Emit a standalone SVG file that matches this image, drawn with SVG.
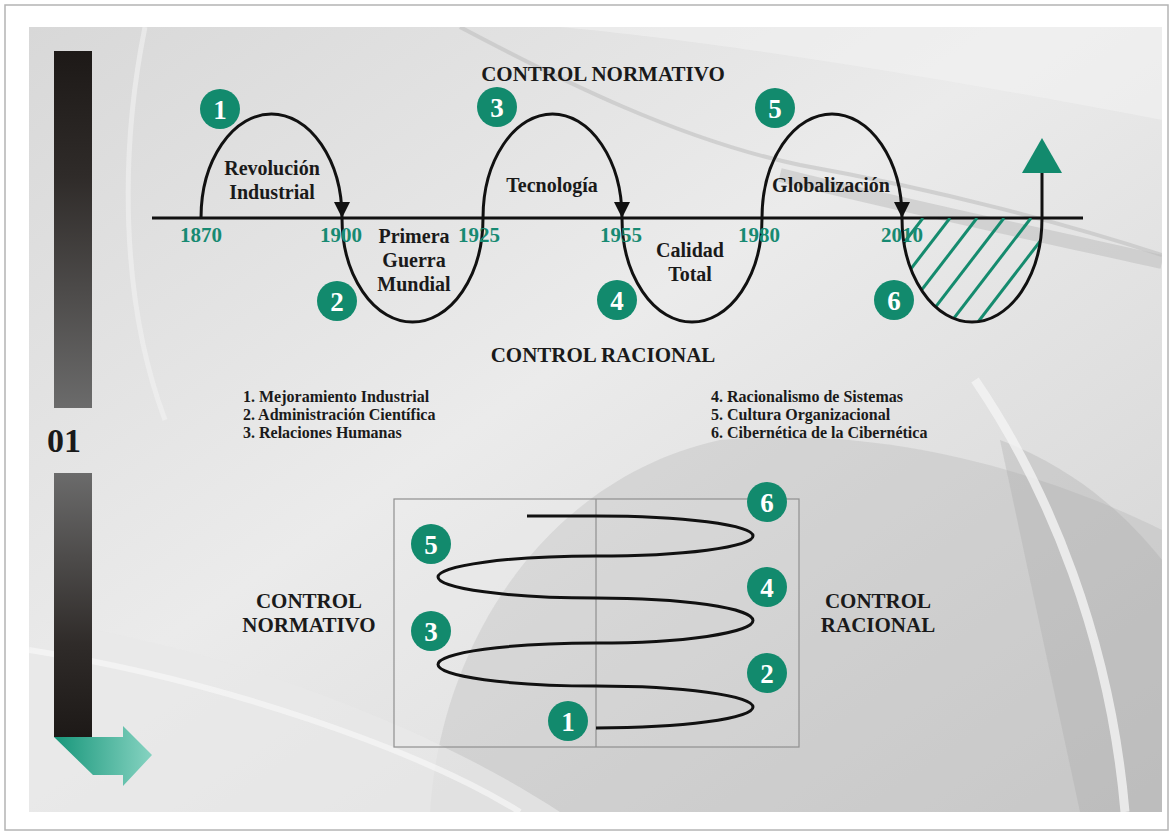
<svg xmlns="http://www.w3.org/2000/svg" width="1174" height="834" viewBox="0 0 1174 834">
<defs>
<linearGradient id="bg" x1="0" y1="0" x2="1" y2="1">
<stop offset="0" stop-color="#d8d8d8"/>
<stop offset="0.45" stop-color="#ebebeb"/>
<stop offset="1" stop-color="#d2d2d2"/>
</linearGradient>
<linearGradient id="barUp" x1="0" y1="0" x2="0" y2="1">
<stop offset="0" stop-color="#1d1917"/>
<stop offset="0.35" stop-color="#2f2b29"/>
<stop offset="1" stop-color="#6b6b6b"/>
</linearGradient>
<linearGradient id="barDown" x1="0" y1="0" x2="0" y2="1">
<stop offset="0" stop-color="#6b6b6b"/>
<stop offset="0.65" stop-color="#2f2b29"/>
<stop offset="1" stop-color="#1d1917"/>
</linearGradient>
<linearGradient id="arrowG" x1="0" y1="0" x2="1" y2="0">
<stop offset="0" stop-color="#17967a"/>
<stop offset="1" stop-color="#86d3c1"/>
</linearGradient>
<clipPath id="hatchClip">
<path d="M902,218 A70,104 0 0 0 1042,218 Z"/>
</clipPath>
<clipPath id="inner"><rect x="29" y="27" width="1133" height="785"/></clipPath>
<style>
.t{font-family:"Liberation Serif","Times New Roman",serif;font-weight:bold;fill:#1a1a1a}
.yr{font-family:"Liberation Serif","Times New Roman",serif;font-weight:bold;fill:#178a72;font-size:21px;text-anchor:middle}
.lbl{font-size:20px;text-anchor:middle}
.hd{font-size:21px;text-anchor:middle}
.lg{font-size:16px}
.num circle{fill:#128a6d}
.num text{font-family:"Liberation Serif","Times New Roman",serif;font-weight:bold;fill:#ffffff;font-size:27px;text-anchor:middle}
.curve{fill:none;stroke:#111;stroke-width:3}
.hatch line{stroke:#158b6e;stroke-width:3}
</style>
</defs>

<g id="background">
<rect x="5" y="5" width="1163" height="825" fill="#ffffff" stroke="#b4b4b4" stroke-width="1.5"/>
<rect x="29" y="27" width="1133" height="785" fill="url(#bg)"/>
<g clip-path="url(#inner)">
<path d="M430,812 C440,650 540,480 720,440 C880,425 1040,470 1162,530 L1162,812 Z" fill="#b4b4b4" opacity="0.35"/>
<path d="M1000,440 C1080,470 1130,520 1162,560 L1162,812 L1080,812 Z" fill="#a6a6a6" opacity="0.3"/>
<path d="M975,380 C1050,490 1110,640 1125,812" fill="none" stroke="#f4f4f4" stroke-width="9" opacity="0.8"/>
<path d="M29,620 C200,640 420,720 560,812 L29,812 Z" fill="#e8e8e8" opacity="0.7"/>
<path d="M29,650 C220,680 420,750 520,812" fill="none" stroke="#f7f7f7" stroke-width="6" opacity="0.7"/>
<path d="M460,27 C560,80 680,140 800,165 C940,190 1070,225 1162,255" fill="none" stroke="#bfbfbf" stroke-width="4" opacity="0.6"/>
<path d="M780,175 C900,205 1040,235 1162,262" fill="none" stroke="#bcbcbc" stroke-width="14" opacity="0.5"/>
<path d="M145,27 C120,150 120,300 165,420" fill="none" stroke="#f2f2f2" stroke-width="5" opacity="0.6"/>
<path d="M560,27 C700,40 900,70 1162,120 L1162,27 Z" fill="#f3f3f3" opacity="0.5"/>
</g>
</g>

<g id="sidebar">
<rect x="54" y="51" width="38" height="357" fill="url(#barUp)"/>
<text class="t" x="64" y="452" font-size="34" text-anchor="middle">01</text>
<rect x="54" y="473" width="38" height="264" fill="url(#barDown)"/>
<polygon points="54,737 123,737 123,726 152,755 123,786 123,775 93,775" fill="url(#arrowG)"/>
</g>

<g id="connectors">
<line x1="152" y1="218" x2="1083" y2="218" stroke="#111" stroke-width="3"/>
<g class="hatch" clip-path="url(#hatchClip)">
<line x1="923" y1="218" x2="833" y2="335"/>
<line x1="950" y1="218" x2="860" y2="335"/>
<line x1="977" y1="218" x2="887" y2="335"/>
<line x1="1004" y1="218" x2="914" y2="335"/>
<line x1="1031" y1="218" x2="941" y2="335"/>
<line x1="1058" y1="218" x2="968" y2="335"/>
<line x1="1085" y1="218" x2="995" y2="335"/>
</g>
<path class="curve" d="M201,218 A70.5,104 0 0 1 342,218 A70.5,104 0 0 0 483,218 A69.5,104 0 0 1 622,218 A70,104 0 0 0 762,218 A70,104 0 0 1 902,218 A70,104 0 0 0 1042,218 L1042,172"/>
<polygon points="334,202 350,202 342,218" fill="#111"/>
<polygon points="614,202 630,202 622,218" fill="#111"/>
<polygon points="894,202 910,202 902,218" fill="#111"/>
<polygon points="1042,138 1022,173 1062,173" fill="#128a6d"/>
<rect x="394" y="499" width="405" height="248" fill="#ffffff" fill-opacity="0.08" stroke="#8f8f8f" stroke-width="1.2"/>
<line x1="596" y1="499" x2="596" y2="747" stroke="#8f8f8f" stroke-width="1.2"/>
<path class="curve" d="M527,516 L596,516 A157,20 0 0 1 596,556 A158,21 0 0 0 596,598 A157,22.5 0 0 1 596,643 A158,21.5 0 0 0 596,686 A157,21 0 0 1 596,728"/>
</g>

<g id="heading-top"><text class="t hd" x="603" y="81">CONTROL NORMATIVO</text></g>
<g id="heading-bottom"><text class="t hd" x="603" y="362">CONTROL RACIONAL</text></g>

<g id="stage-revolucion"><text class="t lbl" x="272" y="175">Revolución</text><text class="t lbl" x="272" y="199">Industrial</text></g>
<g id="stage-guerra"><text class="t lbl" x="414" y="243">Primera</text><text class="t lbl" x="414" y="267">Guerra</text><text class="t lbl" x="414" y="291">Mundial</text></g>
<g id="stage-tecnologia"><text class="t lbl" x="552" y="192">Tecnología</text></g>
<g id="stage-calidad"><text class="t lbl" x="690" y="257">Calidad</text><text class="t lbl" x="690" y="281">Total</text></g>
<g id="stage-globalizacion"><text class="t lbl" x="831" y="192">Globalización</text></g>

<g id="years">
<text class="yr" x="201" y="242">1870</text>
<text class="yr" x="341" y="242">1900</text>
<text class="yr" x="479" y="242">1925</text>
<text class="yr" x="621" y="242">1955</text>
<text class="yr" x="759" y="242">1980</text>
<text class="yr" x="902" y="242">2010</text>
</g>

<g id="wave-numbers" class="num">
<g id="w1"><circle cx="220" cy="109" r="20"/><text x="220" y="118.5">1</text></g>
<g id="w2"><circle cx="337" cy="301" r="20"/><text x="337" y="310.5">2</text></g>
<g id="w3"><circle cx="497" cy="107" r="20"/><text x="497" y="116.5">3</text></g>
<g id="w4"><circle cx="617" cy="300" r="20"/><text x="617" y="309.5">4</text></g>
<g id="w5"><circle cx="775" cy="108" r="20"/><text x="775" y="117.5">5</text></g>
<g id="w6"><circle cx="894" cy="300" r="20"/><text x="894" y="309.5">6</text></g>
</g>

<g id="legend-left" class="t lg">
<text x="243" y="402">1. Mejoramiento Industrial</text>
<text x="243" y="420">2. Administración Científica</text>
<text x="243" y="438">3. Relaciones Humanas</text>
</g>
<g id="legend-right" class="t lg">
<text x="711" y="402">4. Racionalismo de Sistemas</text>
<text x="711" y="420">5. Cultura Organizacional</text>
<text x="711" y="438">6. Cibernética de la Cibernética</text>
</g>

<g id="side-normativo"><text class="t hd" x="309" y="608">CONTROL</text><text class="t hd" x="309" y="632">NORMATIVO</text></g>
<g id="side-racional"><text class="t hd" x="878" y="608">CONTROL</text><text class="t hd" x="878" y="632">RACIONAL</text></g>

<g id="spiral-numbers" class="num">
<g id="s1"><circle cx="568" cy="721" r="20"/><text x="568" y="730.5">1</text></g>
<g id="s2"><circle cx="767" cy="673" r="20"/><text x="767" y="682.5">2</text></g>
<g id="s3"><circle cx="431" cy="631" r="20"/><text x="431" y="640.5">3</text></g>
<g id="s4"><circle cx="767" cy="587" r="20"/><text x="767" y="596.5">4</text></g>
<g id="s5"><circle cx="431" cy="544" r="20"/><text x="431" y="553.5">5</text></g>
<g id="s6"><circle cx="767" cy="502" r="20"/><text x="767" y="511.5">6</text></g>
</g>
</svg>
